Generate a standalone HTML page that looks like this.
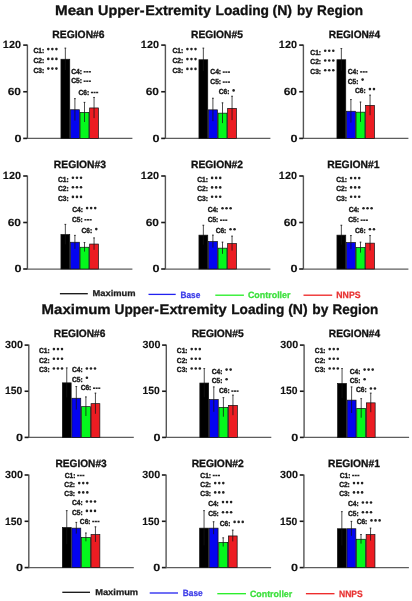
<!DOCTYPE html>
<html><head><meta charset="utf-8"><title>Upper-Extremity Loading by Region</title>
<style>
html,body{margin:0;padding:0;background:#fff;}
body{width:412px;height:601px;overflow:hidden;}
svg{display:block;will-change:transform;font-family:"Liberation Sans",sans-serif;text-rendering:geometricPrecision;}
</style></head><body>
<svg width="412" height="601" viewBox="0 0 412 601">
<g>
<rect x="0" y="0" width="412" height="601" fill="#fff"/>
<text x="55.01" y="14.6" font-size="13.8" textLength="38.82" lengthAdjust="spacingAndGlyphs" fill="#111" font-weight="bold" stroke="#111" stroke-width="0.3">Mean</text>
<text x="98.14" y="14.6" font-size="13.8" textLength="46.4" lengthAdjust="spacingAndGlyphs" fill="#111" font-weight="bold" stroke="#111" stroke-width="0.3">Upper-</text>
<text x="145.37" y="14.6" font-size="13.8" textLength="65.55" lengthAdjust="spacingAndGlyphs" fill="#111" font-weight="bold" stroke="#111" stroke-width="0.3">Extremity</text>
<text x="215.51" y="14.6" font-size="13.8" textLength="53.54" lengthAdjust="spacingAndGlyphs" fill="#111" font-weight="bold" stroke="#111" stroke-width="0.3">Loading</text>
<text x="272.49" y="14.6" font-size="13.8" textLength="19.59" lengthAdjust="spacingAndGlyphs" fill="#111" font-weight="bold" stroke="#111" stroke-width="0.3">(N)</text>
<text x="297.03" y="14.6" font-size="13.8" textLength="15.67" lengthAdjust="spacingAndGlyphs" fill="#111" font-weight="bold" stroke="#111" stroke-width="0.3">by</text>
<text x="317.12" y="14.6" font-size="13.8" textLength="45.98" lengthAdjust="spacingAndGlyphs" fill="#111" font-weight="bold" stroke="#111" stroke-width="0.3">Region</text>
<text x="41.63" y="314.1" font-size="13.8" textLength="69.03" lengthAdjust="spacingAndGlyphs" fill="#111" font-weight="bold" stroke="#111" stroke-width="0.3">Maximum</text>
<text x="114.58" y="314.1" font-size="13.8" textLength="44.13" lengthAdjust="spacingAndGlyphs" fill="#111" font-weight="bold" stroke="#111" stroke-width="0.3">Upper-</text>
<text x="159.64" y="314.1" font-size="13.8" textLength="67.07" lengthAdjust="spacingAndGlyphs" fill="#111" font-weight="bold" stroke="#111" stroke-width="0.3">Extremity</text>
<text x="231.21" y="314.1" font-size="13.8" textLength="53.12" lengthAdjust="spacingAndGlyphs" fill="#111" font-weight="bold" stroke="#111" stroke-width="0.3">Loading</text>
<text x="288.2" y="314.1" font-size="13.8" textLength="19.48" lengthAdjust="spacingAndGlyphs" fill="#111" font-weight="bold" stroke="#111" stroke-width="0.3">(N)</text>
<text x="312.3" y="314.1" font-size="13.8" textLength="16.09" lengthAdjust="spacingAndGlyphs" fill="#111" font-weight="bold" stroke="#111" stroke-width="0.3">by</text>
<text x="332.42" y="314.1" font-size="13.8" textLength="45.77" lengthAdjust="spacingAndGlyphs" fill="#111" font-weight="bold" stroke="#111" stroke-width="0.3">Region</text>
<line x1="27.4" y1="44.5" x2="27.4" y2="139" stroke="#555" stroke-width="1.4"/>
<line x1="27.4" y1="138.4" x2="132.4" y2="138.4" stroke="#5e5e5e" stroke-width="1.25"/>
<line x1="23.2" y1="45.1" x2="27.1" y2="45.1" stroke="#1a1a1a" stroke-width="1.6"/>
<line x1="23.2" y1="91.75" x2="27.1" y2="91.75" stroke="#1a1a1a" stroke-width="1.6"/>
<line x1="23.2" y1="138.4" x2="27.1" y2="138.4" stroke="#1a1a1a" stroke-width="1.6"/>
<text x="2.85" y="48.3" font-size="10.43" textLength="18.12" lengthAdjust="spacingAndGlyphs" fill="#111" font-weight="bold" stroke="#111" stroke-width="0.1">120</text>
<text x="7.68" y="94.95" font-size="10.43" textLength="13.33" lengthAdjust="spacingAndGlyphs" fill="#111" font-weight="bold" stroke="#111" stroke-width="0.1">60</text>
<text x="14.59" y="141.6" font-size="10.43" textLength="7.03" lengthAdjust="spacingAndGlyphs" fill="#111" font-weight="bold" stroke="#111" stroke-width="0.1">0</text>
<text x="52.33" y="37.7" font-size="10.58" textLength="52.26" lengthAdjust="spacingAndGlyphs" fill="#111" font-weight="bold" stroke="#111" stroke-width="0.3">REGION#6</text>
<rect x="60.95" y="59.25" width="8.8" height="79.15" fill="#000" stroke="#111" stroke-width="0.7"/>
<rect x="70.45" y="109.75" width="8.9" height="28.65" fill="#0404f0" stroke="#111" stroke-width="0.7"/>
<rect x="80.05" y="112.35" width="8.9" height="26.05" fill="#04f81c" stroke="#111" stroke-width="0.7"/>
<rect x="89.65" y="107.95" width="8.8" height="30.45" fill="#ec1c22" stroke="#111" stroke-width="0.7"/>
<line x1="65.35" y1="47.8" x2="65.35" y2="70" stroke="#141414" stroke-width="0.75"/>
<line x1="64.45" y1="48.15" x2="66.25" y2="48.15" stroke="#141414" stroke-width="0.7"/>
<line x1="74.9" y1="98.3" x2="74.9" y2="120.5" stroke="#141414" stroke-width="0.75"/>
<line x1="74" y1="98.65" x2="75.8" y2="98.65" stroke="#141414" stroke-width="0.7"/>
<line x1="84.5" y1="102" x2="84.5" y2="122" stroke="#141414" stroke-width="0.75"/>
<line x1="83.6" y1="102.35" x2="85.4" y2="102.35" stroke="#141414" stroke-width="0.7"/>
<line x1="94.05" y1="97.1" x2="94.05" y2="118.1" stroke="#141414" stroke-width="0.75"/>
<line x1="93.15" y1="97.45" x2="94.95" y2="97.45" stroke="#141414" stroke-width="0.7"/>
<text x="33.43" y="53.05" font-size="7.39" textLength="10.71" lengthAdjust="spacingAndGlyphs" fill="#1a1a1a" font-weight="bold" stroke="#1a1a1a" stroke-width="0.4">C1:</text>
<circle cx="48.3" cy="49.1" r="1.28" fill="#222"/>
<circle cx="52.35" cy="49.1" r="1.28" fill="#222"/>
<circle cx="56.4" cy="49.1" r="1.28" fill="#222"/>
<text x="33.43" y="62.85" font-size="7.39" textLength="10.71" lengthAdjust="spacingAndGlyphs" fill="#1a1a1a" font-weight="bold" stroke="#1a1a1a" stroke-width="0.4">C2:</text>
<circle cx="48.3" cy="58.9" r="1.28" fill="#222"/>
<circle cx="52.35" cy="58.9" r="1.28" fill="#222"/>
<circle cx="56.4" cy="58.9" r="1.28" fill="#222"/>
<text x="33.43" y="72.55" font-size="7.39" textLength="10.71" lengthAdjust="spacingAndGlyphs" fill="#1a1a1a" font-weight="bold" stroke="#1a1a1a" stroke-width="0.4">C3:</text>
<circle cx="48.3" cy="68.6" r="1.28" fill="#222"/>
<circle cx="52.35" cy="68.6" r="1.28" fill="#222"/>
<circle cx="56.4" cy="68.6" r="1.28" fill="#222"/>
<text x="71.23" y="74.05" font-size="7.39" textLength="10.71" lengthAdjust="spacingAndGlyphs" fill="#1a1a1a" font-weight="bold" stroke="#1a1a1a" stroke-width="0.4">C4:</text>
<line x1="83.6" y1="71.8" x2="85.7" y2="71.8" stroke="#222" stroke-width="1.5"/>
<line x1="86.2" y1="71.8" x2="88.3" y2="71.8" stroke="#222" stroke-width="1.5"/>
<line x1="88.8" y1="71.8" x2="90.9" y2="71.8" stroke="#222" stroke-width="1.5"/>
<text x="71.23" y="83.45" font-size="7.39" textLength="10.71" lengthAdjust="spacingAndGlyphs" fill="#1a1a1a" font-weight="bold" stroke="#1a1a1a" stroke-width="0.4">C5:</text>
<line x1="83.6" y1="81.2" x2="85.7" y2="81.2" stroke="#222" stroke-width="1.5"/>
<line x1="86.2" y1="81.2" x2="88.3" y2="81.2" stroke="#222" stroke-width="1.5"/>
<line x1="88.8" y1="81.2" x2="90.9" y2="81.2" stroke="#222" stroke-width="1.5"/>
<text x="78.53" y="94.75" font-size="7.39" textLength="10.71" lengthAdjust="spacingAndGlyphs" fill="#1a1a1a" font-weight="bold" stroke="#1a1a1a" stroke-width="0.4">C6:</text>
<line x1="90.9" y1="92.5" x2="93" y2="92.5" stroke="#222" stroke-width="1.5"/>
<line x1="93.5" y1="92.5" x2="95.6" y2="92.5" stroke="#222" stroke-width="1.5"/>
<line x1="96.1" y1="92.5" x2="98.2" y2="92.5" stroke="#222" stroke-width="1.5"/>
<line x1="165.4" y1="44.5" x2="165.4" y2="139" stroke="#555" stroke-width="1.4"/>
<line x1="165.4" y1="138.4" x2="270.4" y2="138.4" stroke="#5e5e5e" stroke-width="1.25"/>
<line x1="161.2" y1="45.1" x2="165.1" y2="45.1" stroke="#1a1a1a" stroke-width="1.6"/>
<line x1="161.2" y1="91.75" x2="165.1" y2="91.75" stroke="#1a1a1a" stroke-width="1.6"/>
<line x1="161.2" y1="138.4" x2="165.1" y2="138.4" stroke="#1a1a1a" stroke-width="1.6"/>
<text x="140.85" y="48.3" font-size="10.43" textLength="18.12" lengthAdjust="spacingAndGlyphs" fill="#111" font-weight="bold" stroke="#111" stroke-width="0.1">120</text>
<text x="145.68" y="94.95" font-size="10.43" textLength="13.33" lengthAdjust="spacingAndGlyphs" fill="#111" font-weight="bold" stroke="#111" stroke-width="0.1">60</text>
<text x="152.59" y="141.6" font-size="10.43" textLength="7.03" lengthAdjust="spacingAndGlyphs" fill="#111" font-weight="bold" stroke="#111" stroke-width="0.1">0</text>
<text x="191.03" y="37.7" font-size="10.58" textLength="51.85" lengthAdjust="spacingAndGlyphs" fill="#111" font-weight="bold" stroke="#111" stroke-width="0.3">REGION#5</text>
<rect x="198.95" y="59.75" width="8.8" height="78.65" fill="#000" stroke="#111" stroke-width="0.7"/>
<rect x="208.45" y="109.85" width="8.9" height="28.55" fill="#0404f0" stroke="#111" stroke-width="0.7"/>
<rect x="218.05" y="113.15" width="8.9" height="25.25" fill="#04f81c" stroke="#111" stroke-width="0.7"/>
<rect x="227.65" y="108.35" width="8.8" height="30.05" fill="#ec1c22" stroke="#111" stroke-width="0.7"/>
<line x1="203.35" y1="47.8" x2="203.35" y2="71" stroke="#141414" stroke-width="0.75"/>
<line x1="202.45" y1="48.15" x2="204.25" y2="48.15" stroke="#141414" stroke-width="0.7"/>
<line x1="212.9" y1="97.9" x2="212.9" y2="121.1" stroke="#141414" stroke-width="0.75"/>
<line x1="212" y1="98.25" x2="213.8" y2="98.25" stroke="#141414" stroke-width="0.7"/>
<line x1="222.5" y1="102.5" x2="222.5" y2="123.1" stroke="#141414" stroke-width="0.75"/>
<line x1="221.6" y1="102.85" x2="223.4" y2="102.85" stroke="#141414" stroke-width="0.7"/>
<line x1="232.05" y1="95.9" x2="232.05" y2="120.1" stroke="#141414" stroke-width="0.75"/>
<line x1="231.15" y1="96.25" x2="232.95" y2="96.25" stroke="#141414" stroke-width="0.7"/>
<text x="172.53" y="53.05" font-size="7.39" textLength="10.71" lengthAdjust="spacingAndGlyphs" fill="#1a1a1a" font-weight="bold" stroke="#1a1a1a" stroke-width="0.4">C1:</text>
<circle cx="187.4" cy="49.1" r="1.28" fill="#222"/>
<circle cx="191.45" cy="49.1" r="1.28" fill="#222"/>
<circle cx="195.5" cy="49.1" r="1.28" fill="#222"/>
<text x="172.53" y="63.05" font-size="7.39" textLength="10.71" lengthAdjust="spacingAndGlyphs" fill="#1a1a1a" font-weight="bold" stroke="#1a1a1a" stroke-width="0.4">C2:</text>
<circle cx="187.4" cy="59.1" r="1.28" fill="#222"/>
<circle cx="191.45" cy="59.1" r="1.28" fill="#222"/>
<circle cx="195.5" cy="59.1" r="1.28" fill="#222"/>
<text x="172.53" y="72.85" font-size="7.39" textLength="10.71" lengthAdjust="spacingAndGlyphs" fill="#1a1a1a" font-weight="bold" stroke="#1a1a1a" stroke-width="0.4">C3:</text>
<circle cx="187.4" cy="68.9" r="1.28" fill="#222"/>
<circle cx="191.45" cy="68.9" r="1.28" fill="#222"/>
<circle cx="195.5" cy="68.9" r="1.28" fill="#222"/>
<text x="210.33" y="74.35" font-size="7.39" textLength="10.71" lengthAdjust="spacingAndGlyphs" fill="#1a1a1a" font-weight="bold" stroke="#1a1a1a" stroke-width="0.4">C4:</text>
<line x1="222.7" y1="72.1" x2="224.8" y2="72.1" stroke="#222" stroke-width="1.5"/>
<line x1="225.3" y1="72.1" x2="227.4" y2="72.1" stroke="#222" stroke-width="1.5"/>
<line x1="227.9" y1="72.1" x2="230" y2="72.1" stroke="#222" stroke-width="1.5"/>
<text x="210.33" y="84.35" font-size="7.39" textLength="10.71" lengthAdjust="spacingAndGlyphs" fill="#1a1a1a" font-weight="bold" stroke="#1a1a1a" stroke-width="0.4">C5:</text>
<line x1="222.7" y1="82.1" x2="224.8" y2="82.1" stroke="#222" stroke-width="1.5"/>
<line x1="225.3" y1="82.1" x2="227.4" y2="82.1" stroke="#222" stroke-width="1.5"/>
<line x1="227.9" y1="82.1" x2="230" y2="82.1" stroke="#222" stroke-width="1.5"/>
<text x="218.73" y="94.35" font-size="7.39" textLength="10.71" lengthAdjust="spacingAndGlyphs" fill="#1a1a1a" font-weight="bold" stroke="#1a1a1a" stroke-width="0.4">C6:</text>
<circle cx="233.6" cy="90.4" r="1.28" fill="#222"/>
<line x1="303.4" y1="44.5" x2="303.4" y2="139" stroke="#555" stroke-width="1.4"/>
<line x1="303.4" y1="138.4" x2="408.4" y2="138.4" stroke="#5e5e5e" stroke-width="1.25"/>
<line x1="299.2" y1="45.1" x2="303.1" y2="45.1" stroke="#1a1a1a" stroke-width="1.6"/>
<line x1="299.2" y1="91.75" x2="303.1" y2="91.75" stroke="#1a1a1a" stroke-width="1.6"/>
<line x1="299.2" y1="138.4" x2="303.1" y2="138.4" stroke="#1a1a1a" stroke-width="1.6"/>
<text x="278.85" y="48.3" font-size="10.43" textLength="18.12" lengthAdjust="spacingAndGlyphs" fill="#111" font-weight="bold" stroke="#111" stroke-width="0.1">120</text>
<text x="283.68" y="94.95" font-size="10.43" textLength="13.33" lengthAdjust="spacingAndGlyphs" fill="#111" font-weight="bold" stroke="#111" stroke-width="0.1">60</text>
<text x="290.59" y="141.6" font-size="10.43" textLength="7.03" lengthAdjust="spacingAndGlyphs" fill="#111" font-weight="bold" stroke="#111" stroke-width="0.1">0</text>
<text x="328.84" y="37.7" font-size="10.58" textLength="51.33" lengthAdjust="spacingAndGlyphs" fill="#111" font-weight="bold" stroke="#111" stroke-width="0.3">REGION#4</text>
<rect x="336.95" y="59.75" width="8.8" height="78.65" fill="#000" stroke="#111" stroke-width="0.7"/>
<rect x="346.45" y="111.25" width="8.9" height="27.15" fill="#0404f0" stroke="#111" stroke-width="0.7"/>
<rect x="356.05" y="112.15" width="8.9" height="26.25" fill="#04f81c" stroke="#111" stroke-width="0.7"/>
<rect x="365.65" y="105.35" width="8.8" height="33.05" fill="#ec1c22" stroke="#111" stroke-width="0.7"/>
<line x1="341.35" y1="48.2" x2="341.35" y2="70.6" stroke="#141414" stroke-width="0.75"/>
<line x1="340.45" y1="48.55" x2="342.25" y2="48.55" stroke="#141414" stroke-width="0.7"/>
<line x1="350.9" y1="99.2" x2="350.9" y2="122.6" stroke="#141414" stroke-width="0.75"/>
<line x1="350" y1="99.55" x2="351.8" y2="99.55" stroke="#141414" stroke-width="0.7"/>
<line x1="360.5" y1="101.7" x2="360.5" y2="121.9" stroke="#141414" stroke-width="0.75"/>
<line x1="359.6" y1="102.05" x2="361.4" y2="102.05" stroke="#141414" stroke-width="0.7"/>
<line x1="370.05" y1="94.8" x2="370.05" y2="115.2" stroke="#141414" stroke-width="0.75"/>
<line x1="369.15" y1="95.15" x2="370.95" y2="95.15" stroke="#141414" stroke-width="0.7"/>
<text x="310.33" y="54.65" font-size="7.39" textLength="10.71" lengthAdjust="spacingAndGlyphs" fill="#1a1a1a" font-weight="bold" stroke="#1a1a1a" stroke-width="0.4">C1:</text>
<circle cx="325.2" cy="50.7" r="1.28" fill="#222"/>
<circle cx="329.25" cy="50.7" r="1.28" fill="#222"/>
<circle cx="333.3" cy="50.7" r="1.28" fill="#222"/>
<text x="310.33" y="64.45" font-size="7.39" textLength="10.71" lengthAdjust="spacingAndGlyphs" fill="#1a1a1a" font-weight="bold" stroke="#1a1a1a" stroke-width="0.4">C2:</text>
<circle cx="325.2" cy="60.5" r="1.28" fill="#222"/>
<circle cx="329.25" cy="60.5" r="1.28" fill="#222"/>
<circle cx="333.3" cy="60.5" r="1.28" fill="#222"/>
<text x="310.33" y="74.25" font-size="7.39" textLength="10.71" lengthAdjust="spacingAndGlyphs" fill="#1a1a1a" font-weight="bold" stroke="#1a1a1a" stroke-width="0.4">C3:</text>
<circle cx="325.2" cy="70.3" r="1.28" fill="#222"/>
<circle cx="329.25" cy="70.3" r="1.28" fill="#222"/>
<circle cx="333.3" cy="70.3" r="1.28" fill="#222"/>
<text x="347.73" y="74.15" font-size="7.39" textLength="10.71" lengthAdjust="spacingAndGlyphs" fill="#1a1a1a" font-weight="bold" stroke="#1a1a1a" stroke-width="0.4">C4:</text>
<line x1="360.1" y1="71.9" x2="362.2" y2="71.9" stroke="#222" stroke-width="1.5"/>
<line x1="362.7" y1="71.9" x2="364.8" y2="71.9" stroke="#222" stroke-width="1.5"/>
<line x1="365.3" y1="71.9" x2="367.4" y2="71.9" stroke="#222" stroke-width="1.5"/>
<text x="347.73" y="83.55" font-size="7.39" textLength="10.71" lengthAdjust="spacingAndGlyphs" fill="#1a1a1a" font-weight="bold" stroke="#1a1a1a" stroke-width="0.4">C5:</text>
<circle cx="362.6" cy="79.6" r="1.28" fill="#222"/>
<text x="355.03" y="93.05" font-size="7.39" textLength="10.71" lengthAdjust="spacingAndGlyphs" fill="#1a1a1a" font-weight="bold" stroke="#1a1a1a" stroke-width="0.4">C6:</text>
<circle cx="369.9" cy="89.1" r="1.28" fill="#222"/>
<circle cx="373.95" cy="89.1" r="1.28" fill="#222"/>
<line x1="27.4" y1="175.4" x2="27.4" y2="269.6" stroke="#555" stroke-width="1.4"/>
<line x1="27.4" y1="269" x2="132.4" y2="269" stroke="#5e5e5e" stroke-width="1.25"/>
<line x1="23.2" y1="176" x2="27.1" y2="176" stroke="#1a1a1a" stroke-width="1.6"/>
<line x1="23.2" y1="222.5" x2="27.1" y2="222.5" stroke="#1a1a1a" stroke-width="1.6"/>
<line x1="23.2" y1="269" x2="27.1" y2="269" stroke="#1a1a1a" stroke-width="1.6"/>
<text x="2.85" y="179.2" font-size="10.43" textLength="18.12" lengthAdjust="spacingAndGlyphs" fill="#111" font-weight="bold" stroke="#111" stroke-width="0.1">120</text>
<text x="7.68" y="225.7" font-size="10.43" textLength="13.33" lengthAdjust="spacingAndGlyphs" fill="#111" font-weight="bold" stroke="#111" stroke-width="0.1">60</text>
<text x="14.59" y="272.2" font-size="10.43" textLength="7.03" lengthAdjust="spacingAndGlyphs" fill="#111" font-weight="bold" stroke="#111" stroke-width="0.1">0</text>
<text x="53.83" y="167.7" font-size="10.58" textLength="52.15" lengthAdjust="spacingAndGlyphs" fill="#111" font-weight="bold" stroke="#111" stroke-width="0.3">REGION#3</text>
<rect x="60.95" y="234.55" width="8.8" height="34.45" fill="#000" stroke="#111" stroke-width="0.7"/>
<rect x="70.45" y="242.25" width="8.9" height="26.75" fill="#0404f0" stroke="#111" stroke-width="0.7"/>
<rect x="80.05" y="247.25" width="8.9" height="21.75" fill="#04f81c" stroke="#111" stroke-width="0.7"/>
<rect x="89.65" y="244.05" width="8.8" height="24.95" fill="#ec1c22" stroke="#111" stroke-width="0.7"/>
<line x1="65.35" y1="224" x2="65.35" y2="244.4" stroke="#141414" stroke-width="0.75"/>
<line x1="64.45" y1="224.35" x2="66.25" y2="224.35" stroke="#141414" stroke-width="0.7"/>
<line x1="74.9" y1="235" x2="74.9" y2="248.8" stroke="#141414" stroke-width="0.75"/>
<line x1="74" y1="235.35" x2="75.8" y2="235.35" stroke="#141414" stroke-width="0.7"/>
<line x1="84.5" y1="242.2" x2="84.5" y2="251.6" stroke="#141414" stroke-width="0.75"/>
<line x1="83.6" y1="242.55" x2="85.4" y2="242.55" stroke="#141414" stroke-width="0.7"/>
<line x1="94.05" y1="237.6" x2="94.05" y2="249.8" stroke="#141414" stroke-width="0.75"/>
<line x1="93.15" y1="237.95" x2="94.95" y2="237.95" stroke="#141414" stroke-width="0.7"/>
<text x="58.03" y="181.65" font-size="7.39" textLength="10.71" lengthAdjust="spacingAndGlyphs" fill="#1a1a1a" font-weight="bold" stroke="#1a1a1a" stroke-width="0.4">C1:</text>
<circle cx="72.9" cy="177.7" r="1.28" fill="#222"/>
<circle cx="76.95" cy="177.7" r="1.28" fill="#222"/>
<circle cx="81" cy="177.7" r="1.28" fill="#222"/>
<text x="58.03" y="191.25" font-size="7.39" textLength="10.71" lengthAdjust="spacingAndGlyphs" fill="#1a1a1a" font-weight="bold" stroke="#1a1a1a" stroke-width="0.4">C2:</text>
<circle cx="72.9" cy="187.3" r="1.28" fill="#222"/>
<circle cx="76.95" cy="187.3" r="1.28" fill="#222"/>
<circle cx="81" cy="187.3" r="1.28" fill="#222"/>
<text x="58.03" y="200.85" font-size="7.39" textLength="10.71" lengthAdjust="spacingAndGlyphs" fill="#1a1a1a" font-weight="bold" stroke="#1a1a1a" stroke-width="0.4">C3:</text>
<circle cx="72.9" cy="196.9" r="1.28" fill="#222"/>
<circle cx="76.95" cy="196.9" r="1.28" fill="#222"/>
<circle cx="81" cy="196.9" r="1.28" fill="#222"/>
<text x="72.23" y="212.05" font-size="7.39" textLength="10.71" lengthAdjust="spacingAndGlyphs" fill="#1a1a1a" font-weight="bold" stroke="#1a1a1a" stroke-width="0.4">C4:</text>
<circle cx="87.1" cy="208.1" r="1.28" fill="#222"/>
<circle cx="91.15" cy="208.1" r="1.28" fill="#222"/>
<circle cx="95.2" cy="208.1" r="1.28" fill="#222"/>
<text x="72.03" y="222.05" font-size="7.39" textLength="10.71" lengthAdjust="spacingAndGlyphs" fill="#1a1a1a" font-weight="bold" stroke="#1a1a1a" stroke-width="0.4">C5:</text>
<line x1="84.4" y1="219.8" x2="86.5" y2="219.8" stroke="#222" stroke-width="1.5"/>
<line x1="87" y1="219.8" x2="89.1" y2="219.8" stroke="#222" stroke-width="1.5"/>
<line x1="89.6" y1="219.8" x2="91.7" y2="219.8" stroke="#222" stroke-width="1.5"/>
<text x="81.43" y="233.05" font-size="7.39" textLength="10.71" lengthAdjust="spacingAndGlyphs" fill="#1a1a1a" font-weight="bold" stroke="#1a1a1a" stroke-width="0.4">C6:</text>
<circle cx="96.3" cy="229.1" r="1.28" fill="#222"/>
<line x1="165.4" y1="175.4" x2="165.4" y2="269.6" stroke="#555" stroke-width="1.4"/>
<line x1="165.4" y1="269" x2="270.4" y2="269" stroke="#5e5e5e" stroke-width="1.25"/>
<line x1="161.2" y1="176" x2="165.1" y2="176" stroke="#1a1a1a" stroke-width="1.6"/>
<line x1="161.2" y1="222.5" x2="165.1" y2="222.5" stroke="#1a1a1a" stroke-width="1.6"/>
<line x1="161.2" y1="269" x2="165.1" y2="269" stroke="#1a1a1a" stroke-width="1.6"/>
<text x="140.85" y="179.2" font-size="10.43" textLength="18.12" lengthAdjust="spacingAndGlyphs" fill="#111" font-weight="bold" stroke="#111" stroke-width="0.1">120</text>
<text x="145.68" y="225.7" font-size="10.43" textLength="13.33" lengthAdjust="spacingAndGlyphs" fill="#111" font-weight="bold" stroke="#111" stroke-width="0.1">60</text>
<text x="152.59" y="272.2" font-size="10.43" textLength="7.03" lengthAdjust="spacingAndGlyphs" fill="#111" font-weight="bold" stroke="#111" stroke-width="0.1">0</text>
<text x="191.03" y="167.7" font-size="10.58" textLength="52" lengthAdjust="spacingAndGlyphs" fill="#111" font-weight="bold" stroke="#111" stroke-width="0.3">REGION#2</text>
<rect x="198.95" y="235.15" width="8.8" height="33.85" fill="#000" stroke="#111" stroke-width="0.7"/>
<rect x="208.45" y="241.55" width="8.9" height="27.45" fill="#0404f0" stroke="#111" stroke-width="0.7"/>
<rect x="218.05" y="248.15" width="8.9" height="20.85" fill="#04f81c" stroke="#111" stroke-width="0.7"/>
<rect x="227.65" y="243.55" width="8.8" height="25.45" fill="#ec1c22" stroke="#111" stroke-width="0.7"/>
<line x1="203.35" y1="224.9" x2="203.35" y2="244.7" stroke="#141414" stroke-width="0.75"/>
<line x1="202.45" y1="225.25" x2="204.25" y2="225.25" stroke="#141414" stroke-width="0.7"/>
<line x1="212.9" y1="234.8" x2="212.9" y2="247.6" stroke="#141414" stroke-width="0.75"/>
<line x1="212" y1="235.15" x2="213.8" y2="235.15" stroke="#141414" stroke-width="0.7"/>
<line x1="222.5" y1="241.8" x2="222.5" y2="253.8" stroke="#141414" stroke-width="0.75"/>
<line x1="221.6" y1="242.15" x2="223.4" y2="242.15" stroke="#141414" stroke-width="0.7"/>
<line x1="232.05" y1="235.8" x2="232.05" y2="250.6" stroke="#141414" stroke-width="0.75"/>
<line x1="231.15" y1="236.15" x2="232.95" y2="236.15" stroke="#141414" stroke-width="0.7"/>
<text x="197.23" y="181.85" font-size="7.39" textLength="10.71" lengthAdjust="spacingAndGlyphs" fill="#1a1a1a" font-weight="bold" stroke="#1a1a1a" stroke-width="0.4">C1:</text>
<circle cx="212.1" cy="177.9" r="1.28" fill="#222"/>
<circle cx="216.15" cy="177.9" r="1.28" fill="#222"/>
<circle cx="220.2" cy="177.9" r="1.28" fill="#222"/>
<text x="197.23" y="191.35" font-size="7.39" textLength="10.71" lengthAdjust="spacingAndGlyphs" fill="#1a1a1a" font-weight="bold" stroke="#1a1a1a" stroke-width="0.4">C2:</text>
<circle cx="212.1" cy="187.4" r="1.28" fill="#222"/>
<circle cx="216.15" cy="187.4" r="1.28" fill="#222"/>
<circle cx="220.2" cy="187.4" r="1.28" fill="#222"/>
<text x="197.23" y="200.75" font-size="7.39" textLength="10.71" lengthAdjust="spacingAndGlyphs" fill="#1a1a1a" font-weight="bold" stroke="#1a1a1a" stroke-width="0.4">C3:</text>
<circle cx="212.1" cy="196.8" r="1.28" fill="#222"/>
<circle cx="216.15" cy="196.8" r="1.28" fill="#222"/>
<circle cx="220.2" cy="196.8" r="1.28" fill="#222"/>
<text x="207.63" y="212.15" font-size="7.39" textLength="10.71" lengthAdjust="spacingAndGlyphs" fill="#1a1a1a" font-weight="bold" stroke="#1a1a1a" stroke-width="0.4">C4:</text>
<circle cx="222.5" cy="208.2" r="1.28" fill="#222"/>
<circle cx="226.55" cy="208.2" r="1.28" fill="#222"/>
<circle cx="230.6" cy="208.2" r="1.28" fill="#222"/>
<text x="207.63" y="222.45" font-size="7.39" textLength="10.71" lengthAdjust="spacingAndGlyphs" fill="#1a1a1a" font-weight="bold" stroke="#1a1a1a" stroke-width="0.4">C5:</text>
<line x1="220" y1="220.2" x2="222.1" y2="220.2" stroke="#222" stroke-width="1.5"/>
<line x1="222.6" y1="220.2" x2="224.7" y2="220.2" stroke="#222" stroke-width="1.5"/>
<line x1="225.2" y1="220.2" x2="227.3" y2="220.2" stroke="#222" stroke-width="1.5"/>
<text x="215.63" y="233.25" font-size="7.39" textLength="10.71" lengthAdjust="spacingAndGlyphs" fill="#1a1a1a" font-weight="bold" stroke="#1a1a1a" stroke-width="0.4">C6:</text>
<circle cx="230.5" cy="229.3" r="1.28" fill="#222"/>
<circle cx="234.55" cy="229.3" r="1.28" fill="#222"/>
<line x1="303.4" y1="175.4" x2="303.4" y2="269.6" stroke="#555" stroke-width="1.4"/>
<line x1="303.4" y1="269" x2="408.4" y2="269" stroke="#5e5e5e" stroke-width="1.25"/>
<line x1="299.2" y1="176" x2="303.1" y2="176" stroke="#1a1a1a" stroke-width="1.6"/>
<line x1="299.2" y1="222.5" x2="303.1" y2="222.5" stroke="#1a1a1a" stroke-width="1.6"/>
<line x1="299.2" y1="269" x2="303.1" y2="269" stroke="#1a1a1a" stroke-width="1.6"/>
<text x="278.85" y="179.2" font-size="10.43" textLength="18.12" lengthAdjust="spacingAndGlyphs" fill="#111" font-weight="bold" stroke="#111" stroke-width="0.1">120</text>
<text x="283.68" y="225.7" font-size="10.43" textLength="13.33" lengthAdjust="spacingAndGlyphs" fill="#111" font-weight="bold" stroke="#111" stroke-width="0.1">60</text>
<text x="290.59" y="272.2" font-size="10.43" textLength="7.03" lengthAdjust="spacingAndGlyphs" fill="#111" font-weight="bold" stroke="#111" stroke-width="0.1">0</text>
<text x="327.23" y="167.7" font-size="10.58" textLength="52.35" lengthAdjust="spacingAndGlyphs" fill="#111" font-weight="bold" stroke="#111" stroke-width="0.3">REGION#1</text>
<rect x="336.95" y="235.15" width="8.8" height="33.85" fill="#000" stroke="#111" stroke-width="0.7"/>
<rect x="346.45" y="242.55" width="8.9" height="26.45" fill="#0404f0" stroke="#111" stroke-width="0.7"/>
<rect x="356.05" y="247.55" width="8.9" height="21.45" fill="#04f81c" stroke="#111" stroke-width="0.7"/>
<rect x="365.65" y="243.15" width="8.8" height="25.85" fill="#ec1c22" stroke="#111" stroke-width="0.7"/>
<line x1="341.35" y1="224.9" x2="341.35" y2="244.7" stroke="#141414" stroke-width="0.75"/>
<line x1="340.45" y1="225.25" x2="342.25" y2="225.25" stroke="#141414" stroke-width="0.7"/>
<line x1="350.9" y1="235.2" x2="350.9" y2="249.2" stroke="#141414" stroke-width="0.75"/>
<line x1="350" y1="235.55" x2="351.8" y2="235.55" stroke="#141414" stroke-width="0.7"/>
<line x1="360.5" y1="241.8" x2="360.5" y2="252.6" stroke="#141414" stroke-width="0.75"/>
<line x1="359.6" y1="242.15" x2="361.4" y2="242.15" stroke="#141414" stroke-width="0.7"/>
<line x1="370.05" y1="235.2" x2="370.05" y2="250.4" stroke="#141414" stroke-width="0.75"/>
<line x1="369.15" y1="235.55" x2="370.95" y2="235.55" stroke="#141414" stroke-width="0.7"/>
<text x="336.23" y="182.05" font-size="7.39" textLength="10.71" lengthAdjust="spacingAndGlyphs" fill="#1a1a1a" font-weight="bold" stroke="#1a1a1a" stroke-width="0.4">C1:</text>
<circle cx="351.1" cy="178.1" r="1.28" fill="#222"/>
<circle cx="355.15" cy="178.1" r="1.28" fill="#222"/>
<circle cx="359.2" cy="178.1" r="1.28" fill="#222"/>
<text x="336.23" y="191.35" font-size="7.39" textLength="10.71" lengthAdjust="spacingAndGlyphs" fill="#1a1a1a" font-weight="bold" stroke="#1a1a1a" stroke-width="0.4">C2:</text>
<circle cx="351.1" cy="187.4" r="1.28" fill="#222"/>
<circle cx="355.15" cy="187.4" r="1.28" fill="#222"/>
<circle cx="359.2" cy="187.4" r="1.28" fill="#222"/>
<text x="336.23" y="200.75" font-size="7.39" textLength="10.71" lengthAdjust="spacingAndGlyphs" fill="#1a1a1a" font-weight="bold" stroke="#1a1a1a" stroke-width="0.4">C3:</text>
<circle cx="351.1" cy="196.8" r="1.28" fill="#222"/>
<circle cx="355.15" cy="196.8" r="1.28" fill="#222"/>
<circle cx="359.2" cy="196.8" r="1.28" fill="#222"/>
<text x="348.63" y="212.15" font-size="7.39" textLength="10.71" lengthAdjust="spacingAndGlyphs" fill="#1a1a1a" font-weight="bold" stroke="#1a1a1a" stroke-width="0.4">C4:</text>
<circle cx="363.5" cy="208.2" r="1.28" fill="#222"/>
<circle cx="367.55" cy="208.2" r="1.28" fill="#222"/>
<circle cx="371.6" cy="208.2" r="1.28" fill="#222"/>
<text x="348.23" y="222.45" font-size="7.39" textLength="10.71" lengthAdjust="spacingAndGlyphs" fill="#1a1a1a" font-weight="bold" stroke="#1a1a1a" stroke-width="0.4">C5:</text>
<line x1="360.6" y1="220.2" x2="362.7" y2="220.2" stroke="#222" stroke-width="1.5"/>
<line x1="363.2" y1="220.2" x2="365.3" y2="220.2" stroke="#222" stroke-width="1.5"/>
<line x1="365.8" y1="220.2" x2="367.9" y2="220.2" stroke="#222" stroke-width="1.5"/>
<text x="355.03" y="233.25" font-size="7.39" textLength="10.71" lengthAdjust="spacingAndGlyphs" fill="#1a1a1a" font-weight="bold" stroke="#1a1a1a" stroke-width="0.4">C6:</text>
<circle cx="369.9" cy="229.3" r="1.28" fill="#222"/>
<circle cx="373.95" cy="229.3" r="1.28" fill="#222"/>
<line x1="28.8" y1="344.5" x2="28.8" y2="438" stroke="#555" stroke-width="1.4"/>
<line x1="28.8" y1="437.4" x2="133.8" y2="437.4" stroke="#5e5e5e" stroke-width="1.25"/>
<line x1="24.6" y1="345.1" x2="28.5" y2="345.1" stroke="#1a1a1a" stroke-width="1.6"/>
<line x1="24.6" y1="391.25" x2="28.5" y2="391.25" stroke="#1a1a1a" stroke-width="1.6"/>
<line x1="24.6" y1="437.4" x2="28.5" y2="437.4" stroke="#1a1a1a" stroke-width="1.6"/>
<text x="4.93" y="348.3" font-size="10.43" textLength="17.94" lengthAdjust="spacingAndGlyphs" fill="#111" font-weight="bold" stroke="#111" stroke-width="0.1">300</text>
<text x="4.98" y="394.45" font-size="10.43" textLength="17.27" lengthAdjust="spacingAndGlyphs" fill="#111" font-weight="bold" stroke="#111" stroke-width="0.1">150</text>
<text x="15.99" y="440.6" font-size="10.43" textLength="7.03" lengthAdjust="spacingAndGlyphs" fill="#111" font-weight="bold" stroke="#111" stroke-width="0.1">0</text>
<text x="53.84" y="337.1" font-size="10.58" textLength="51.64" lengthAdjust="spacingAndGlyphs" fill="#111" font-weight="bold" stroke="#111" stroke-width="0.3">REGION#6</text>
<rect x="62.35" y="382.85" width="8.8" height="54.55" fill="#000" stroke="#111" stroke-width="0.7"/>
<rect x="71.85" y="398.25" width="8.9" height="39.15" fill="#0404f0" stroke="#111" stroke-width="0.7"/>
<rect x="81.45" y="406.65" width="8.9" height="30.75" fill="#04f81c" stroke="#111" stroke-width="0.7"/>
<rect x="91.05" y="403.65" width="8.8" height="33.75" fill="#ec1c22" stroke="#111" stroke-width="0.7"/>
<line x1="66.75" y1="367.6" x2="66.75" y2="397.4" stroke="#141414" stroke-width="0.75"/>
<line x1="65.85" y1="367.95" x2="67.65" y2="367.95" stroke="#141414" stroke-width="0.7"/>
<line x1="76.3" y1="386.2" x2="76.3" y2="409.6" stroke="#141414" stroke-width="0.75"/>
<line x1="75.4" y1="386.55" x2="77.2" y2="386.55" stroke="#141414" stroke-width="0.7"/>
<line x1="85.9" y1="396.6" x2="85.9" y2="416" stroke="#141414" stroke-width="0.75"/>
<line x1="85" y1="396.95" x2="86.8" y2="396.95" stroke="#141414" stroke-width="0.7"/>
<line x1="95.45" y1="392.8" x2="95.45" y2="413.8" stroke="#141414" stroke-width="0.75"/>
<line x1="94.55" y1="393.15" x2="96.35" y2="393.15" stroke="#141414" stroke-width="0.7"/>
<text x="39.03" y="353.05" font-size="7.39" textLength="10.71" lengthAdjust="spacingAndGlyphs" fill="#1a1a1a" font-weight="bold" stroke="#1a1a1a" stroke-width="0.4">C1:</text>
<circle cx="53.9" cy="349.1" r="1.28" fill="#222"/>
<circle cx="57.95" cy="349.1" r="1.28" fill="#222"/>
<circle cx="62" cy="349.1" r="1.28" fill="#222"/>
<text x="39.03" y="362.75" font-size="7.39" textLength="10.71" lengthAdjust="spacingAndGlyphs" fill="#1a1a1a" font-weight="bold" stroke="#1a1a1a" stroke-width="0.4">C2:</text>
<circle cx="53.9" cy="358.8" r="1.28" fill="#222"/>
<circle cx="57.95" cy="358.8" r="1.28" fill="#222"/>
<circle cx="62" cy="358.8" r="1.28" fill="#222"/>
<text x="39.03" y="372.45" font-size="7.39" textLength="10.71" lengthAdjust="spacingAndGlyphs" fill="#1a1a1a" font-weight="bold" stroke="#1a1a1a" stroke-width="0.4">C3:</text>
<circle cx="53.9" cy="368.5" r="1.28" fill="#222"/>
<circle cx="57.95" cy="368.5" r="1.28" fill="#222"/>
<circle cx="62" cy="368.5" r="1.28" fill="#222"/>
<text x="72.03" y="372.45" font-size="7.39" textLength="10.71" lengthAdjust="spacingAndGlyphs" fill="#1a1a1a" font-weight="bold" stroke="#1a1a1a" stroke-width="0.4">C4:</text>
<circle cx="86.9" cy="368.5" r="1.28" fill="#222"/>
<circle cx="90.95" cy="368.5" r="1.28" fill="#222"/>
<circle cx="95" cy="368.5" r="1.28" fill="#222"/>
<text x="72.03" y="381.75" font-size="7.39" textLength="10.71" lengthAdjust="spacingAndGlyphs" fill="#1a1a1a" font-weight="bold" stroke="#1a1a1a" stroke-width="0.4">C5:</text>
<circle cx="86.9" cy="377.8" r="1.28" fill="#222"/>
<text x="80.63" y="390.45" font-size="7.39" textLength="10.71" lengthAdjust="spacingAndGlyphs" fill="#1a1a1a" font-weight="bold" stroke="#1a1a1a" stroke-width="0.4">C6:</text>
<line x1="93" y1="388.2" x2="95.1" y2="388.2" stroke="#222" stroke-width="1.5"/>
<line x1="95.6" y1="388.2" x2="97.7" y2="388.2" stroke="#222" stroke-width="1.5"/>
<line x1="98.2" y1="388.2" x2="100.3" y2="388.2" stroke="#222" stroke-width="1.5"/>
<line x1="166.3" y1="344.5" x2="166.3" y2="438" stroke="#555" stroke-width="1.4"/>
<line x1="166.3" y1="437.4" x2="271.3" y2="437.4" stroke="#5e5e5e" stroke-width="1.25"/>
<line x1="162.1" y1="345.1" x2="166" y2="345.1" stroke="#1a1a1a" stroke-width="1.6"/>
<line x1="162.1" y1="391.25" x2="166" y2="391.25" stroke="#1a1a1a" stroke-width="1.6"/>
<line x1="162.1" y1="437.4" x2="166" y2="437.4" stroke="#1a1a1a" stroke-width="1.6"/>
<text x="142.43" y="348.3" font-size="10.43" textLength="17.94" lengthAdjust="spacingAndGlyphs" fill="#111" font-weight="bold" stroke="#111" stroke-width="0.1">300</text>
<text x="142.48" y="394.45" font-size="10.43" textLength="17.27" lengthAdjust="spacingAndGlyphs" fill="#111" font-weight="bold" stroke="#111" stroke-width="0.1">150</text>
<text x="153.49" y="440.6" font-size="10.43" textLength="7.03" lengthAdjust="spacingAndGlyphs" fill="#111" font-weight="bold" stroke="#111" stroke-width="0.1">0</text>
<text x="191.63" y="337.1" font-size="10.58" textLength="52.05" lengthAdjust="spacingAndGlyphs" fill="#111" font-weight="bold" stroke="#111" stroke-width="0.3">REGION#5</text>
<rect x="199.85" y="383.05" width="8.8" height="54.35" fill="#000" stroke="#111" stroke-width="0.7"/>
<rect x="209.35" y="399.55" width="8.9" height="37.85" fill="#0404f0" stroke="#111" stroke-width="0.7"/>
<rect x="218.95" y="407.35" width="8.9" height="30.05" fill="#04f81c" stroke="#111" stroke-width="0.7"/>
<rect x="228.55" y="405.35" width="8.8" height="32.05" fill="#ec1c22" stroke="#111" stroke-width="0.7"/>
<line x1="204.25" y1="368.2" x2="204.25" y2="397.2" stroke="#141414" stroke-width="0.75"/>
<line x1="203.35" y1="368.55" x2="205.15" y2="368.55" stroke="#141414" stroke-width="0.7"/>
<line x1="213.8" y1="386.6" x2="213.8" y2="411.8" stroke="#141414" stroke-width="0.75"/>
<line x1="212.9" y1="386.95" x2="214.7" y2="386.95" stroke="#141414" stroke-width="0.7"/>
<line x1="223.4" y1="397.3" x2="223.4" y2="416.7" stroke="#141414" stroke-width="0.75"/>
<line x1="222.5" y1="397.65" x2="224.3" y2="397.65" stroke="#141414" stroke-width="0.7"/>
<line x1="232.95" y1="394.8" x2="232.95" y2="415.2" stroke="#141414" stroke-width="0.75"/>
<line x1="232.05" y1="395.15" x2="233.85" y2="395.15" stroke="#141414" stroke-width="0.7"/>
<text x="176.83" y="353.05" font-size="7.39" textLength="10.71" lengthAdjust="spacingAndGlyphs" fill="#1a1a1a" font-weight="bold" stroke="#1a1a1a" stroke-width="0.4">C1:</text>
<circle cx="191.7" cy="349.1" r="1.28" fill="#222"/>
<circle cx="195.75" cy="349.1" r="1.28" fill="#222"/>
<circle cx="199.8" cy="349.1" r="1.28" fill="#222"/>
<text x="176.83" y="362.75" font-size="7.39" textLength="10.71" lengthAdjust="spacingAndGlyphs" fill="#1a1a1a" font-weight="bold" stroke="#1a1a1a" stroke-width="0.4">C2:</text>
<circle cx="191.7" cy="358.8" r="1.28" fill="#222"/>
<circle cx="195.75" cy="358.8" r="1.28" fill="#222"/>
<circle cx="199.8" cy="358.8" r="1.28" fill="#222"/>
<text x="176.83" y="372.45" font-size="7.39" textLength="10.71" lengthAdjust="spacingAndGlyphs" fill="#1a1a1a" font-weight="bold" stroke="#1a1a1a" stroke-width="0.4">C3:</text>
<circle cx="191.7" cy="368.5" r="1.28" fill="#222"/>
<circle cx="195.75" cy="368.5" r="1.28" fill="#222"/>
<circle cx="199.8" cy="368.5" r="1.28" fill="#222"/>
<text x="211.73" y="373.55" font-size="7.39" textLength="10.71" lengthAdjust="spacingAndGlyphs" fill="#1a1a1a" font-weight="bold" stroke="#1a1a1a" stroke-width="0.4">C4:</text>
<circle cx="226.6" cy="369.6" r="1.28" fill="#222"/>
<circle cx="230.65" cy="369.6" r="1.28" fill="#222"/>
<text x="211.73" y="383.25" font-size="7.39" textLength="10.71" lengthAdjust="spacingAndGlyphs" fill="#1a1a1a" font-weight="bold" stroke="#1a1a1a" stroke-width="0.4">C5:</text>
<circle cx="226.6" cy="379.3" r="1.28" fill="#222"/>
<text x="218.93" y="393.35" font-size="7.39" textLength="10.71" lengthAdjust="spacingAndGlyphs" fill="#1a1a1a" font-weight="bold" stroke="#1a1a1a" stroke-width="0.4">C6:</text>
<line x1="231.3" y1="391.1" x2="233.4" y2="391.1" stroke="#222" stroke-width="1.5"/>
<line x1="233.9" y1="391.1" x2="236" y2="391.1" stroke="#222" stroke-width="1.5"/>
<line x1="236.5" y1="391.1" x2="238.6" y2="391.1" stroke="#222" stroke-width="1.5"/>
<line x1="304.1" y1="344.5" x2="304.1" y2="438" stroke="#555" stroke-width="1.4"/>
<line x1="304.1" y1="437.4" x2="409.1" y2="437.4" stroke="#5e5e5e" stroke-width="1.25"/>
<line x1="299.9" y1="345.1" x2="303.8" y2="345.1" stroke="#1a1a1a" stroke-width="1.6"/>
<line x1="299.9" y1="391.25" x2="303.8" y2="391.25" stroke="#1a1a1a" stroke-width="1.6"/>
<line x1="299.9" y1="437.4" x2="303.8" y2="437.4" stroke="#1a1a1a" stroke-width="1.6"/>
<text x="280.23" y="348.3" font-size="10.43" textLength="17.94" lengthAdjust="spacingAndGlyphs" fill="#111" font-weight="bold" stroke="#111" stroke-width="0.1">300</text>
<text x="280.28" y="394.45" font-size="10.43" textLength="17.27" lengthAdjust="spacingAndGlyphs" fill="#111" font-weight="bold" stroke="#111" stroke-width="0.1">150</text>
<text x="291.29" y="440.6" font-size="10.43" textLength="7.03" lengthAdjust="spacingAndGlyphs" fill="#111" font-weight="bold" stroke="#111" stroke-width="0.1">0</text>
<text x="328.84" y="337.1" font-size="10.58" textLength="51.33" lengthAdjust="spacingAndGlyphs" fill="#111" font-weight="bold" stroke="#111" stroke-width="0.3">REGION#4</text>
<rect x="337.65" y="383.45" width="8.8" height="53.95" fill="#000" stroke="#111" stroke-width="0.7"/>
<rect x="347.15" y="400.15" width="8.9" height="37.25" fill="#0404f0" stroke="#111" stroke-width="0.7"/>
<rect x="356.75" y="408.35" width="8.9" height="29.05" fill="#04f81c" stroke="#111" stroke-width="0.7"/>
<rect x="366.35" y="402.85" width="8.8" height="34.55" fill="#ec1c22" stroke="#111" stroke-width="0.7"/>
<line x1="342.05" y1="368.2" x2="342.05" y2="398" stroke="#141414" stroke-width="0.75"/>
<line x1="341.15" y1="368.55" x2="342.95" y2="368.55" stroke="#141414" stroke-width="0.7"/>
<line x1="351.6" y1="386.6" x2="351.6" y2="413" stroke="#141414" stroke-width="0.75"/>
<line x1="350.7" y1="386.95" x2="352.5" y2="386.95" stroke="#141414" stroke-width="0.7"/>
<line x1="361.2" y1="398.3" x2="361.2" y2="417.7" stroke="#141414" stroke-width="0.75"/>
<line x1="360.3" y1="398.65" x2="362.1" y2="398.65" stroke="#141414" stroke-width="0.7"/>
<line x1="370.75" y1="392.8" x2="370.75" y2="412.2" stroke="#141414" stroke-width="0.75"/>
<line x1="369.85" y1="393.15" x2="371.65" y2="393.15" stroke="#141414" stroke-width="0.7"/>
<text x="314.83" y="353.05" font-size="7.39" textLength="10.71" lengthAdjust="spacingAndGlyphs" fill="#1a1a1a" font-weight="bold" stroke="#1a1a1a" stroke-width="0.4">C1:</text>
<circle cx="329.7" cy="349.1" r="1.28" fill="#222"/>
<circle cx="333.75" cy="349.1" r="1.28" fill="#222"/>
<circle cx="337.8" cy="349.1" r="1.28" fill="#222"/>
<text x="314.83" y="362.75" font-size="7.39" textLength="10.71" lengthAdjust="spacingAndGlyphs" fill="#1a1a1a" font-weight="bold" stroke="#1a1a1a" stroke-width="0.4">C2:</text>
<circle cx="329.7" cy="358.8" r="1.28" fill="#222"/>
<circle cx="333.75" cy="358.8" r="1.28" fill="#222"/>
<circle cx="337.8" cy="358.8" r="1.28" fill="#222"/>
<text x="314.83" y="372.45" font-size="7.39" textLength="10.71" lengthAdjust="spacingAndGlyphs" fill="#1a1a1a" font-weight="bold" stroke="#1a1a1a" stroke-width="0.4">C3:</text>
<circle cx="329.7" cy="368.5" r="1.28" fill="#222"/>
<circle cx="333.75" cy="368.5" r="1.28" fill="#222"/>
<circle cx="337.8" cy="368.5" r="1.28" fill="#222"/>
<text x="349.73" y="373.55" font-size="7.39" textLength="10.71" lengthAdjust="spacingAndGlyphs" fill="#1a1a1a" font-weight="bold" stroke="#1a1a1a" stroke-width="0.4">C4:</text>
<circle cx="364.6" cy="369.6" r="1.28" fill="#222"/>
<circle cx="368.65" cy="369.6" r="1.28" fill="#222"/>
<circle cx="372.7" cy="369.6" r="1.28" fill="#222"/>
<text x="349.73" y="383.25" font-size="7.39" textLength="10.71" lengthAdjust="spacingAndGlyphs" fill="#1a1a1a" font-weight="bold" stroke="#1a1a1a" stroke-width="0.4">C5:</text>
<circle cx="364.6" cy="379.3" r="1.28" fill="#222"/>
<text x="356.03" y="392.45" font-size="7.39" textLength="10.71" lengthAdjust="spacingAndGlyphs" fill="#1a1a1a" font-weight="bold" stroke="#1a1a1a" stroke-width="0.4">C6:</text>
<circle cx="370.9" cy="388.5" r="1.28" fill="#222"/>
<circle cx="374.95" cy="388.5" r="1.28" fill="#222"/>
<line x1="28.8" y1="474.4" x2="28.8" y2="568.2" stroke="#555" stroke-width="1.4"/>
<line x1="28.8" y1="567.6" x2="133.8" y2="567.6" stroke="#5e5e5e" stroke-width="1.25"/>
<line x1="24.6" y1="475" x2="28.5" y2="475" stroke="#1a1a1a" stroke-width="1.6"/>
<line x1="24.6" y1="521.3" x2="28.5" y2="521.3" stroke="#1a1a1a" stroke-width="1.6"/>
<line x1="24.6" y1="567.6" x2="28.5" y2="567.6" stroke="#1a1a1a" stroke-width="1.6"/>
<text x="4.93" y="478.2" font-size="10.43" textLength="17.94" lengthAdjust="spacingAndGlyphs" fill="#111" font-weight="bold" stroke="#111" stroke-width="0.1">300</text>
<text x="4.98" y="524.5" font-size="10.43" textLength="17.27" lengthAdjust="spacingAndGlyphs" fill="#111" font-weight="bold" stroke="#111" stroke-width="0.1">150</text>
<text x="15.99" y="570.8" font-size="10.43" textLength="7.03" lengthAdjust="spacingAndGlyphs" fill="#111" font-weight="bold" stroke="#111" stroke-width="0.1">0</text>
<text x="55.54" y="467" font-size="10.58" textLength="51.13" lengthAdjust="spacingAndGlyphs" fill="#111" font-weight="bold" stroke="#111" stroke-width="0.3">REGION#3</text>
<rect x="62.35" y="527.55" width="8.8" height="40.05" fill="#000" stroke="#111" stroke-width="0.7"/>
<rect x="71.85" y="528.15" width="8.9" height="39.45" fill="#0404f0" stroke="#111" stroke-width="0.7"/>
<rect x="81.45" y="537.35" width="8.9" height="30.25" fill="#04f81c" stroke="#111" stroke-width="0.7"/>
<rect x="91.05" y="534.55" width="8.8" height="33.05" fill="#ec1c22" stroke="#111" stroke-width="0.7"/>
<line x1="66.75" y1="510.3" x2="66.75" y2="544.1" stroke="#141414" stroke-width="0.75"/>
<line x1="65.85" y1="510.65" x2="67.65" y2="510.65" stroke="#141414" stroke-width="0.7"/>
<line x1="76.3" y1="522" x2="76.3" y2="533.6" stroke="#141414" stroke-width="0.75"/>
<line x1="75.4" y1="522.35" x2="77.2" y2="522.35" stroke="#141414" stroke-width="0.7"/>
<line x1="85.9" y1="532.7" x2="85.9" y2="541.3" stroke="#141414" stroke-width="0.75"/>
<line x1="85" y1="533.05" x2="86.8" y2="533.05" stroke="#141414" stroke-width="0.7"/>
<line x1="95.45" y1="526.5" x2="95.45" y2="541.9" stroke="#141414" stroke-width="0.75"/>
<line x1="94.55" y1="526.85" x2="96.35" y2="526.85" stroke="#141414" stroke-width="0.7"/>
<text x="64.73" y="477.75" font-size="7.39" textLength="10.71" lengthAdjust="spacingAndGlyphs" fill="#1a1a1a" font-weight="bold" stroke="#1a1a1a" stroke-width="0.4">C1:</text>
<line x1="77.1" y1="475.5" x2="79.2" y2="475.5" stroke="#222" stroke-width="1.5"/>
<line x1="79.7" y1="475.5" x2="81.8" y2="475.5" stroke="#222" stroke-width="1.5"/>
<line x1="82.3" y1="475.5" x2="84.4" y2="475.5" stroke="#222" stroke-width="1.5"/>
<text x="64.33" y="487.05" font-size="7.39" textLength="10.71" lengthAdjust="spacingAndGlyphs" fill="#1a1a1a" font-weight="bold" stroke="#1a1a1a" stroke-width="0.4">C2:</text>
<circle cx="79.2" cy="483.1" r="1.28" fill="#222"/>
<circle cx="83.25" cy="483.1" r="1.28" fill="#222"/>
<circle cx="87.3" cy="483.1" r="1.28" fill="#222"/>
<text x="64.33" y="496.35" font-size="7.39" textLength="10.71" lengthAdjust="spacingAndGlyphs" fill="#1a1a1a" font-weight="bold" stroke="#1a1a1a" stroke-width="0.4">C3:</text>
<circle cx="79.2" cy="492.4" r="1.28" fill="#222"/>
<circle cx="83.25" cy="492.4" r="1.28" fill="#222"/>
<circle cx="87.3" cy="492.4" r="1.28" fill="#222"/>
<text x="72.03" y="505.45" font-size="7.39" textLength="10.71" lengthAdjust="spacingAndGlyphs" fill="#1a1a1a" font-weight="bold" stroke="#1a1a1a" stroke-width="0.4">C4:</text>
<circle cx="86.9" cy="501.5" r="1.28" fill="#222"/>
<circle cx="90.95" cy="501.5" r="1.28" fill="#222"/>
<circle cx="95" cy="501.5" r="1.28" fill="#222"/>
<text x="72.03" y="514.85" font-size="7.39" textLength="10.71" lengthAdjust="spacingAndGlyphs" fill="#1a1a1a" font-weight="bold" stroke="#1a1a1a" stroke-width="0.4">C5:</text>
<circle cx="86.9" cy="510.9" r="1.28" fill="#222"/>
<circle cx="90.95" cy="510.9" r="1.28" fill="#222"/>
<circle cx="95" cy="510.9" r="1.28" fill="#222"/>
<text x="79.83" y="523.75" font-size="7.39" textLength="10.71" lengthAdjust="spacingAndGlyphs" fill="#1a1a1a" font-weight="bold" stroke="#1a1a1a" stroke-width="0.4">C6:</text>
<line x1="92.2" y1="521.5" x2="94.3" y2="521.5" stroke="#222" stroke-width="1.5"/>
<line x1="94.8" y1="521.5" x2="96.9" y2="521.5" stroke="#222" stroke-width="1.5"/>
<line x1="97.4" y1="521.5" x2="99.5" y2="521.5" stroke="#222" stroke-width="1.5"/>
<line x1="166.1" y1="474.4" x2="166.1" y2="568.2" stroke="#555" stroke-width="1.4"/>
<line x1="166.1" y1="567.6" x2="271.1" y2="567.6" stroke="#5e5e5e" stroke-width="1.25"/>
<line x1="161.9" y1="475" x2="165.8" y2="475" stroke="#1a1a1a" stroke-width="1.6"/>
<line x1="161.9" y1="521.3" x2="165.8" y2="521.3" stroke="#1a1a1a" stroke-width="1.6"/>
<line x1="161.9" y1="567.6" x2="165.8" y2="567.6" stroke="#1a1a1a" stroke-width="1.6"/>
<text x="142.23" y="478.2" font-size="10.43" textLength="17.94" lengthAdjust="spacingAndGlyphs" fill="#111" font-weight="bold" stroke="#111" stroke-width="0.1">300</text>
<text x="142.28" y="524.5" font-size="10.43" textLength="17.27" lengthAdjust="spacingAndGlyphs" fill="#111" font-weight="bold" stroke="#111" stroke-width="0.1">150</text>
<text x="153.29" y="570.8" font-size="10.43" textLength="7.03" lengthAdjust="spacingAndGlyphs" fill="#111" font-weight="bold" stroke="#111" stroke-width="0.1">0</text>
<text x="191.63" y="467" font-size="10.58" textLength="52.21" lengthAdjust="spacingAndGlyphs" fill="#111" font-weight="bold" stroke="#111" stroke-width="0.3">REGION#2</text>
<rect x="199.65" y="528.15" width="8.8" height="39.45" fill="#000" stroke="#111" stroke-width="0.7"/>
<rect x="209.15" y="528.15" width="8.9" height="39.45" fill="#0404f0" stroke="#111" stroke-width="0.7"/>
<rect x="218.75" y="542.35" width="8.9" height="25.25" fill="#04f81c" stroke="#111" stroke-width="0.7"/>
<rect x="228.35" y="535.95" width="8.8" height="31.65" fill="#ec1c22" stroke="#111" stroke-width="0.7"/>
<line x1="204.05" y1="510.3" x2="204.05" y2="545.3" stroke="#141414" stroke-width="0.75"/>
<line x1="203.15" y1="510.65" x2="204.95" y2="510.65" stroke="#141414" stroke-width="0.7"/>
<line x1="213.6" y1="521.4" x2="213.6" y2="534.2" stroke="#141414" stroke-width="0.75"/>
<line x1="212.7" y1="521.75" x2="214.5" y2="521.75" stroke="#141414" stroke-width="0.7"/>
<line x1="223.2" y1="537.5" x2="223.2" y2="546.5" stroke="#141414" stroke-width="0.75"/>
<line x1="222.3" y1="537.85" x2="224.1" y2="537.85" stroke="#141414" stroke-width="0.7"/>
<line x1="232.75" y1="529.8" x2="232.75" y2="541.4" stroke="#141414" stroke-width="0.75"/>
<line x1="231.85" y1="530.15" x2="233.65" y2="530.15" stroke="#141414" stroke-width="0.7"/>
<text x="200.33" y="477.75" font-size="7.39" textLength="10.71" lengthAdjust="spacingAndGlyphs" fill="#1a1a1a" font-weight="bold" stroke="#1a1a1a" stroke-width="0.4">C1:</text>
<line x1="212.7" y1="475.5" x2="214.8" y2="475.5" stroke="#222" stroke-width="1.5"/>
<line x1="215.3" y1="475.5" x2="217.4" y2="475.5" stroke="#222" stroke-width="1.5"/>
<line x1="217.9" y1="475.5" x2="220" y2="475.5" stroke="#222" stroke-width="1.5"/>
<text x="200.33" y="487.05" font-size="7.39" textLength="10.71" lengthAdjust="spacingAndGlyphs" fill="#1a1a1a" font-weight="bold" stroke="#1a1a1a" stroke-width="0.4">C2:</text>
<circle cx="215.2" cy="483.1" r="1.28" fill="#222"/>
<circle cx="219.25" cy="483.1" r="1.28" fill="#222"/>
<circle cx="223.3" cy="483.1" r="1.28" fill="#222"/>
<text x="200.33" y="496.35" font-size="7.39" textLength="10.71" lengthAdjust="spacingAndGlyphs" fill="#1a1a1a" font-weight="bold" stroke="#1a1a1a" stroke-width="0.4">C3:</text>
<circle cx="215.2" cy="492.4" r="1.28" fill="#222"/>
<circle cx="219.25" cy="492.4" r="1.28" fill="#222"/>
<circle cx="223.3" cy="492.4" r="1.28" fill="#222"/>
<text x="208.13" y="506.05" font-size="7.39" textLength="10.71" lengthAdjust="spacingAndGlyphs" fill="#1a1a1a" font-weight="bold" stroke="#1a1a1a" stroke-width="0.4">C4:</text>
<circle cx="223" cy="502.1" r="1.28" fill="#222"/>
<circle cx="227.05" cy="502.1" r="1.28" fill="#222"/>
<circle cx="231.1" cy="502.1" r="1.28" fill="#222"/>
<text x="208.13" y="516.15" font-size="7.39" textLength="10.71" lengthAdjust="spacingAndGlyphs" fill="#1a1a1a" font-weight="bold" stroke="#1a1a1a" stroke-width="0.4">C5:</text>
<circle cx="223" cy="512.2" r="1.28" fill="#222"/>
<circle cx="227.05" cy="512.2" r="1.28" fill="#222"/>
<circle cx="231.1" cy="512.2" r="1.28" fill="#222"/>
<text x="219.73" y="525.85" font-size="7.39" textLength="10.71" lengthAdjust="spacingAndGlyphs" fill="#1a1a1a" font-weight="bold" stroke="#1a1a1a" stroke-width="0.4">C6:</text>
<circle cx="234.6" cy="521.9" r="1.28" fill="#222"/>
<circle cx="238.65" cy="521.9" r="1.28" fill="#222"/>
<circle cx="242.7" cy="521.9" r="1.28" fill="#222"/>
<line x1="303.9" y1="474.4" x2="303.9" y2="568.2" stroke="#555" stroke-width="1.4"/>
<line x1="303.9" y1="567.6" x2="408.9" y2="567.6" stroke="#5e5e5e" stroke-width="1.25"/>
<line x1="299.7" y1="475" x2="303.6" y2="475" stroke="#1a1a1a" stroke-width="1.6"/>
<line x1="299.7" y1="521.3" x2="303.6" y2="521.3" stroke="#1a1a1a" stroke-width="1.6"/>
<line x1="299.7" y1="567.6" x2="303.6" y2="567.6" stroke="#1a1a1a" stroke-width="1.6"/>
<text x="280.03" y="478.2" font-size="10.43" textLength="17.94" lengthAdjust="spacingAndGlyphs" fill="#111" font-weight="bold" stroke="#111" stroke-width="0.1">300</text>
<text x="280.08" y="524.5" font-size="10.43" textLength="17.27" lengthAdjust="spacingAndGlyphs" fill="#111" font-weight="bold" stroke="#111" stroke-width="0.1">150</text>
<text x="291.09" y="570.8" font-size="10.43" textLength="7.03" lengthAdjust="spacingAndGlyphs" fill="#111" font-weight="bold" stroke="#111" stroke-width="0.1">0</text>
<text x="328.03" y="467" font-size="10.58" textLength="51.85" lengthAdjust="spacingAndGlyphs" fill="#111" font-weight="bold" stroke="#111" stroke-width="0.3">REGION#1</text>
<rect x="337.45" y="528.75" width="8.8" height="38.85" fill="#000" stroke="#111" stroke-width="0.7"/>
<rect x="346.95" y="528.75" width="8.9" height="38.85" fill="#0404f0" stroke="#111" stroke-width="0.7"/>
<rect x="356.55" y="539.25" width="8.9" height="28.35" fill="#04f81c" stroke="#111" stroke-width="0.7"/>
<rect x="366.15" y="534.55" width="8.8" height="33.05" fill="#ec1c22" stroke="#111" stroke-width="0.7"/>
<line x1="341.85" y1="511.3" x2="341.85" y2="545.5" stroke="#141414" stroke-width="0.75"/>
<line x1="340.95" y1="511.65" x2="342.75" y2="511.65" stroke="#141414" stroke-width="0.7"/>
<line x1="351.4" y1="521" x2="351.4" y2="535.8" stroke="#141414" stroke-width="0.75"/>
<line x1="350.5" y1="521.35" x2="352.3" y2="521.35" stroke="#141414" stroke-width="0.7"/>
<line x1="361" y1="534.2" x2="361" y2="543.6" stroke="#141414" stroke-width="0.75"/>
<line x1="360.1" y1="534.55" x2="361.9" y2="534.55" stroke="#141414" stroke-width="0.7"/>
<line x1="370.55" y1="527.8" x2="370.55" y2="540.6" stroke="#141414" stroke-width="0.75"/>
<line x1="369.65" y1="528.15" x2="371.45" y2="528.15" stroke="#141414" stroke-width="0.7"/>
<text x="339.73" y="477.75" font-size="7.39" textLength="10.71" lengthAdjust="spacingAndGlyphs" fill="#1a1a1a" font-weight="bold" stroke="#1a1a1a" stroke-width="0.4">C1:</text>
<line x1="352.1" y1="475.5" x2="354.2" y2="475.5" stroke="#222" stroke-width="1.5"/>
<line x1="354.7" y1="475.5" x2="356.8" y2="475.5" stroke="#222" stroke-width="1.5"/>
<line x1="357.3" y1="475.5" x2="359.4" y2="475.5" stroke="#222" stroke-width="1.5"/>
<text x="339.13" y="487.05" font-size="7.39" textLength="10.71" lengthAdjust="spacingAndGlyphs" fill="#1a1a1a" font-weight="bold" stroke="#1a1a1a" stroke-width="0.4">C2:</text>
<circle cx="354" cy="483.1" r="1.28" fill="#222"/>
<circle cx="358.05" cy="483.1" r="1.28" fill="#222"/>
<circle cx="362.1" cy="483.1" r="1.28" fill="#222"/>
<text x="339.13" y="496.35" font-size="7.39" textLength="10.71" lengthAdjust="spacingAndGlyphs" fill="#1a1a1a" font-weight="bold" stroke="#1a1a1a" stroke-width="0.4">C3:</text>
<circle cx="354" cy="492.4" r="1.28" fill="#222"/>
<circle cx="358.05" cy="492.4" r="1.28" fill="#222"/>
<circle cx="362.1" cy="492.4" r="1.28" fill="#222"/>
<text x="348.03" y="506.45" font-size="7.39" textLength="10.71" lengthAdjust="spacingAndGlyphs" fill="#1a1a1a" font-weight="bold" stroke="#1a1a1a" stroke-width="0.4">C4:</text>
<circle cx="362.9" cy="502.5" r="1.28" fill="#222"/>
<circle cx="366.95" cy="502.5" r="1.28" fill="#222"/>
<circle cx="371" cy="502.5" r="1.28" fill="#222"/>
<text x="348.03" y="516.15" font-size="7.39" textLength="10.71" lengthAdjust="spacingAndGlyphs" fill="#1a1a1a" font-weight="bold" stroke="#1a1a1a" stroke-width="0.4">C5:</text>
<circle cx="362.9" cy="512.2" r="1.28" fill="#222"/>
<circle cx="366.95" cy="512.2" r="1.28" fill="#222"/>
<circle cx="371" cy="512.2" r="1.28" fill="#222"/>
<text x="356.63" y="524.35" font-size="7.39" textLength="10.71" lengthAdjust="spacingAndGlyphs" fill="#1a1a1a" font-weight="bold" stroke="#1a1a1a" stroke-width="0.4">C6:</text>
<circle cx="371.5" cy="520.4" r="1.28" fill="#222"/>
<circle cx="375.55" cy="520.4" r="1.28" fill="#222"/>
<circle cx="379.6" cy="520.4" r="1.28" fill="#222"/>
<line x1="59.9" y1="293.7" x2="87.8" y2="293.7" stroke="#111" stroke-width="1.3"/>
<text x="92.49" y="296" font-size="8.41" textLength="43.04" lengthAdjust="spacingAndGlyphs" fill="#1a1a1a" font-weight="bold" stroke="#1a1a1a" stroke-width="0.25">Maximum</text>
<line x1="148.5" y1="294.4" x2="175.7" y2="294.4" stroke="#2222f0" stroke-width="1.3"/>
<text x="180.46" y="297.6" font-size="9.13" textLength="19.84" lengthAdjust="spacingAndGlyphs" fill="#3a3ae8" font-weight="bold" stroke="#3a3ae8" stroke-width="0.25">Base</text>
<line x1="215.3" y1="295.2" x2="243.9" y2="295.2" stroke="#22ee22" stroke-width="1.3"/>
<text x="247.94" y="298.2" font-size="9.13" textLength="42.57" lengthAdjust="spacingAndGlyphs" fill="#3ee03e" font-weight="bold" stroke="#3ee03e" stroke-width="0.25">Controller</text>
<line x1="303.5" y1="295.2" x2="332.2" y2="295.2" stroke="#ee2222" stroke-width="1.3"/>
<text x="336.33" y="298.1" font-size="9.28" textLength="24.2" lengthAdjust="spacingAndGlyphs" fill="#e83030" font-weight="bold" stroke="#e83030" stroke-width="0.25">NNPS</text>
<line x1="62.3" y1="592.3" x2="90" y2="592.3" stroke="#111" stroke-width="1.3"/>
<text x="95.19" y="594.6" font-size="8.55" textLength="42.94" lengthAdjust="spacingAndGlyphs" fill="#1a1a1a" font-weight="bold" stroke="#1a1a1a" stroke-width="0.25">Maximum</text>
<line x1="149.7" y1="593" x2="178" y2="593" stroke="#2222f0" stroke-width="1.3"/>
<text x="182.76" y="596" font-size="8.99" textLength="19.94" lengthAdjust="spacingAndGlyphs" fill="#3a3ae8" font-weight="bold" stroke="#3a3ae8" stroke-width="0.25">Base</text>
<line x1="217.3" y1="593.7" x2="246" y2="593.7" stroke="#22ee22" stroke-width="1.3"/>
<text x="249.95" y="596.8" font-size="9.13" textLength="42.27" lengthAdjust="spacingAndGlyphs" fill="#3ee03e" font-weight="bold" stroke="#3ee03e" stroke-width="0.25">Controller</text>
<line x1="305.9" y1="593.7" x2="334.5" y2="593.7" stroke="#ee2222" stroke-width="1.3"/>
<text x="339.05" y="596.8" font-size="9.28" textLength="23.68" lengthAdjust="spacingAndGlyphs" fill="#e83030" font-weight="bold" stroke="#e83030" stroke-width="0.25">NNPS</text>
</g>
</svg>
</body></html>
